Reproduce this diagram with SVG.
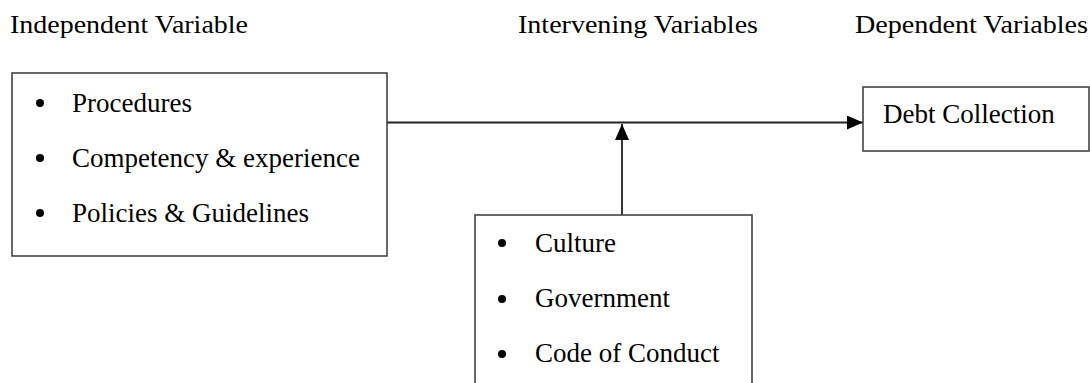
<svg xmlns="http://www.w3.org/2000/svg" width="1090" height="383" viewBox="0 0 1090 383">
<style>
text{font-family:"Liberation Serif","Times New Roman",serif;fill:#000}
.h{font-size:25px}
.t{font-size:27px}
.box{fill:#fff;stroke:#444;stroke-width:1.6}
.ln{stroke:#222;stroke-width:1.8;fill:none}
.b{fill:#000}
</style>
<defs>
<marker id="arr" viewBox="0 0 16 14" refX="16" refY="7" markerWidth="16" markerHeight="14" markerUnits="userSpaceOnUse" orient="auto">
<path d="M0,0 L16,7 L0,14 Z" fill="#000"/>
</marker>
</defs>
<rect width="1090" height="383" fill="#fff"/>
<g id="headers">
<text class="h" x="10" y="33" textLength="238" lengthAdjust="spacingAndGlyphs">Independent Variable</text>
<text class="h" x="518" y="33" textLength="240" lengthAdjust="spacingAndGlyphs">Intervening Variables</text>
<text class="h" x="855" y="33" textLength="233" lengthAdjust="spacingAndGlyphs">Dependent Variables</text>
</g>
<g id="connectors">
<line class="ln" x1="387" y1="122.5" x2="863" y2="122.5" marker-end="url(#arr)"/>
<line class="ln" x1="622" y1="215" x2="622" y2="124" marker-end="url(#arr)"/>
</g>
<g id="independent">
<rect class="box" x="12" y="73" width="375" height="183"/>
<circle class="b" cx="40" cy="103" r="4"/>
<circle class="b" cx="40" cy="158" r="4"/>
<circle class="b" cx="40" cy="213" r="4"/>
<text class="t" x="72" y="112">Procedures</text>
<text class="t" x="72" y="167">Competency &amp; experience</text>
<text class="t" x="72" y="222">Policies &amp; Guidelines</text>
</g>
<g id="dependent">
<rect class="box" x="863" y="87" width="226" height="64"/>
<text class="t" x="883" y="123">Debt Collection</text>
</g>
<g id="intervening">
<rect class="box" x="475" y="215" width="277" height="185"/>
<circle class="b" cx="502" cy="243" r="4"/>
<circle class="b" cx="502" cy="299" r="4"/>
<circle class="b" cx="502" cy="354" r="4"/>
<text class="t" x="535" y="252">Culture</text>
<text class="t" x="535" y="307">Government</text>
<text class="t" x="535" y="362">Code of Conduct</text>
</g>
</svg>
